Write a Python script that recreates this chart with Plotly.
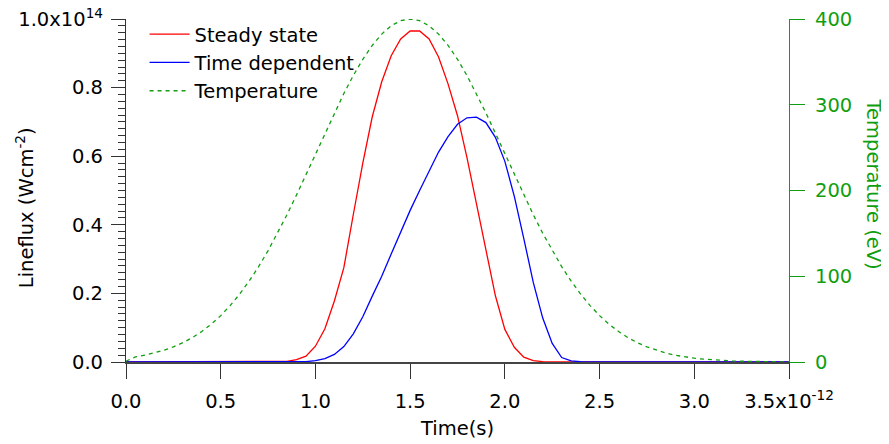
import plotly.graph_objects as go

# time in units of 1e-12 s
time = [round(i * 0.05, 2) for i in range(71)]

# Steady state lineflux, units of 1e14 W cm^-2
steady = [0]*17 + [0.002, 0.007, 0.017, 0.046, 0.097, 0.178, 0.275, 0.43, 0.58,
          0.715, 0.817, 0.893, 0.942, 0.965, 0.965, 0.942, 0.889, 0.811, 0.718,
          0.596, 0.462, 0.325, 0.193, 0.095, 0.043, 0.014, 0.004, 0.001]
steady += [0] * (71 - len(steady))

# Time dependent lineflux, units of 1e14 W cm^-2
timedep = [0]*19 + [0.001, 0.004, 0.010, 0.022, 0.045, 0.082, 0.132, 0.192, 0.25,
           0.315, 0.38, 0.442, 0.50, 0.558, 0.612, 0.657, 0.693, 0.712, 0.714,
           0.698, 0.655, 0.585, 0.483, 0.36, 0.232, 0.128, 0.054, 0.013, 0.003, 0.001]
timedep += [0] * (71 - len(timedep))

# Temperature (eV)
temperature = [1.0, 6.0, 7.9, 10.5, 13.6, 17.6, 22.5, 28.4, 35.6, 44.1, 54.1, 65.8,
               79.2, 94.3, 111.2, 129.9, 150.1, 171.8, 194.7, 218.4, 242.6, 266.8,
               290.5, 313.1, 334.1, 353.0, 369.3, 382.4, 392.1, 398.0, 400.0, 398.0,
               392.1, 382.4, 369.3, 353.0, 334.1, 313.1, 290.5, 266.8, 242.6, 218.4,
               194.7, 171.8, 150.1, 129.9, 111.2, 94.3, 79.2, 65.8, 54.1, 44.1, 35.6,
               28.4, 22.5, 17.6, 13.6, 10.5, 7.9, 6.0, 4.4, 3.3, 2.4, 1.7, 1.2, 0.9,
               0.6, 0.4, 0.3, 0.2, 0.1]

x_tickvals = [0, 0.5, 1.0, 1.5, 2.0, 2.5, 3.0, 3.5]
x_ticktext = ["0.0", "0.5", "1.0", "1.5", "2.0", "2.5", "3.0", "3.5x10<sup>-12</sup>"]
y_tickvals = [0, 0.2, 0.4, 0.6, 0.8, 1.0]
y_ticktext = ["0.0", "0.2", "0.4", "0.6", "0.8", "1.0x10<sup>14</sup>"]
y2_tickvals = [0, 100, 200, 300, 400]

GREEN = "#109e10"
FONT = "DejaVu Sans"
FS = 19.5

fig = go.Figure()
fig.add_trace(go.Scatter(x=time, y=steady, mode="lines", name="Steady state",
                         line=dict(color="#ff0000", width=1.3)))
fig.add_trace(go.Scatter(x=time, y=timedep, mode="lines", name="Time dependent",
                         line=dict(color="#0000ff", width=1.3)))
fig.add_trace(go.Scatter(x=time, y=temperature, mode="lines", name="Temperature",
                         yaxis="y2", line=dict(color=GREEN, width=1.3, dash="4px,4px")))

fig.update_layout(
    width=881, height=436,
    margin=dict(l=118, r=100, t=11, b=82, autoexpand=False),
    paper_bgcolor="white", plot_bgcolor="white",
    font=dict(family=FONT, size=FS, color="black"),
    showlegend=True,
    legend=dict(x=0.028, y=1.012, xanchor="left", yanchor="top",
                bgcolor="rgba(0,0,0,0)", font=dict(size=FS), tracegroupgap=0,
                itemwidth=40),
    xaxis=dict(range=[0, 3.5], tickvals=x_tickvals, ticktext=x_ticktext,
               automargin=False, ticklabeloverflow="allow",
               showgrid=False, zeroline=False, showline=True, linecolor="#444",
               linewidth=1.5, ticks="outside", ticklen=15, tickcolor="#333",
               tickwidth=1.2, ticklabelstandoff=6, tickfont=dict(size=FS),
               title=dict(text="Time(s)", font=dict(size=FS), standoff=9)),
    yaxis=dict(range=[0, 1.0], tickvals=y_tickvals, ticktext=y_ticktext,
               automargin=False, ticklabeloverflow="allow",
               showgrid=False, zeroline=False, showline=True, linecolor="#333",
               linewidth=1.2, ticks="outside", ticklen=14, tickcolor="#333",
               tickwidth=1.2, ticklabelstandoff=4, tickfont=dict(size=FS),
               minor=dict(dtick=0.02, ticks="outside", ticklen=7, tickcolor="#333",
                          tickwidth=1, showgrid=False)),
    yaxis2=dict(range=[0, 400], tickvals=y2_tickvals, overlaying="y", side="right",
                automargin=False, ticklabeloverflow="allow",
                showgrid=False, zeroline=False, showline=True, linecolor=GREEN,
                linewidth=1.2, ticks="outside", ticklen=15, tickcolor=GREEN,
                tickwidth=1.2, ticklabelstandoff=6,
                tickfont=dict(color=GREEN, size=FS)),
    annotations=[
        dict(text="Lineflux (Wcm<sup>-2</sup>)", xref="paper", yref="paper",
             x=-0.153, y=0.45, xanchor="center", yanchor="middle",
             textangle=-90, showarrow=False, font=dict(size=FS, color="black")),
        dict(text="Temperature (eV)", xref="paper", yref="paper",
             x=1.127, y=0.52, xanchor="center", yanchor="middle",
             textangle=90, showarrow=False, font=dict(size=FS, color=GREEN)),
    ],
)

fig.write_html("out.html")
